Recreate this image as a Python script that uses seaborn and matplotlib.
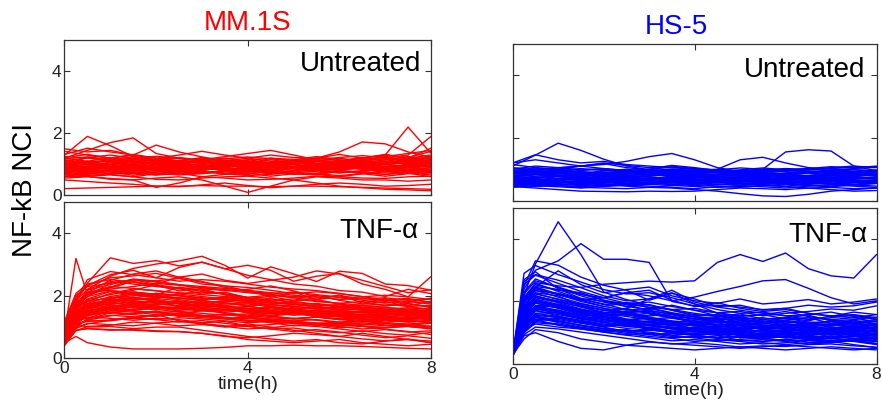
import matplotlib
matplotlib.use("Agg")
import matplotlib.pyplot as plt
import pandas as pd
import seaborn as sns

# Sampling times (h)
T_UNT = [0.0, 0.5, 1.0, 1.5, 2.0, 2.5, 3.0, 3.5, 4.0, 4.5, 5.0, 5.5, 6.0, 6.5, 7.0, 7.5, 8.0]
T_TNF = [0.0, 0.25, 0.5, 1.0, 1.5, 2.0, 2.5, 3.0, 3.5, 4.0, 4.5, 5.0, 5.5, 6.0, 6.5, 7.0, 7.5, 8.0]

# MM.1S, untreated: single-cell NF-kB NCI traces
mm_untreated = [
    [1.30, 1.90, 1.60, 1.25, 1.10, 1.00, 0.95, 1.00, 0.90, 0.92, 1.00, 0.90, 0.98, 1.02, 1.10, 1.00, 1.08],
    [1.20, 1.45, 1.70, 1.85, 1.35, 1.20, 1.10, 1.05, 1.10, 0.98, 0.92, 1.00, 1.08, 1.15, 1.02, 1.10, 1.20],
    [0.92, 0.82, 0.90, 0.80, 0.88, 0.98, 0.90, 0.82, 0.88, 0.80, 0.90, 0.96, 1.00, 1.05, 1.30, 2.20, 1.35],
    [1.00, 1.10, 0.92, 1.02, 1.10, 1.00, 0.92, 1.00, 1.08, 1.00, 1.10, 1.20, 1.40, 1.72, 1.66, 1.40, 1.22],
    [0.80, 0.90, 1.00, 0.92, 0.82, 0.90, 1.00, 0.90, 1.00, 0.92, 1.00, 0.90, 1.00, 1.10, 1.20, 1.30, 1.90],
    [0.22, 0.24, 0.26, 0.28, 0.30, 0.30, 0.32, 0.30, 0.30, 0.28, 0.30, 0.30, 0.28, 0.26, 0.24, 0.22, 0.20],
    [0.50, 0.45, 0.40, 0.36, 0.30, 0.28, 0.34, 0.40, 0.32, 0.25, 0.30, 0.36, 0.40, 0.36, 0.30, 0.32, 0.36],
    [0.72, 0.62, 0.52, 0.50, 0.56, 0.60, 0.50, 0.30, 0.10, 0.30, 0.50, 0.60, 0.56, 0.50, 0.50, 0.46, 0.50],
    [0.60, 0.62, 0.66, 0.60, 0.52, 0.50, 0.56, 0.60, 0.62, 0.56, 0.50, 0.40, 0.30, 0.25, 0.20, 0.18, 0.15],
    [0.56, 0.60, 0.55, 0.50, 0.26, 0.40, 0.60, 0.56, 0.50, 0.52, 0.56, 0.62, 0.60, 0.56, 0.55, 0.60, 0.62],
    [0.90, 1.00, 0.92, 0.84, 0.90, 1.00, 0.94, 0.88, 0.82, 0.90, 0.94, 1.00, 0.92, 0.84, 0.90, 0.98, 0.92],
    [1.02, 0.92, 1.08, 1.00, 0.90, 0.88, 0.98, 0.84, 0.92, 1.00, 0.90, 0.82, 0.90, 1.00, 1.10, 1.02, 0.98],
    [0.80, 0.78, 0.70, 0.80, 0.90, 0.80, 0.72, 0.80, 0.78, 0.70, 0.80, 0.88, 0.80, 0.76, 0.88, 0.80, 0.90],
    [1.10, 1.22, 1.10, 1.00, 1.18, 1.10, 1.02, 1.10, 1.00, 1.08, 1.00, 1.10, 1.20, 1.10, 1.02, 1.12, 1.24],
    [0.70, 0.68, 0.80, 0.72, 0.66, 0.78, 0.80, 0.70, 0.68, 0.78, 0.70, 0.66, 0.78, 0.72, 0.68, 0.80, 0.82],
    [1.22, 1.32, 1.20, 1.30, 1.62, 1.40, 1.24, 1.12, 1.20, 1.10, 1.08, 1.20, 1.12, 1.22, 1.10, 1.20, 1.30],
    [0.88, 0.80, 0.82, 0.90, 0.80, 0.88, 1.00, 0.90, 0.80, 0.82, 0.90, 0.80, 0.88, 0.92, 0.80, 0.90, 1.02],
    [1.00, 1.10, 1.00, 1.12, 1.02, 0.98, 1.10, 1.00, 1.10, 0.92, 1.00, 1.10, 1.00, 0.92, 1.00, 1.10, 1.12],
    [0.62, 0.70, 0.68, 0.60, 0.70, 0.72, 0.60, 0.68, 0.72, 0.62, 0.70, 0.68, 0.60, 0.70, 0.62, 0.70, 0.72],
    [1.32, 1.52, 1.40, 1.30, 1.20, 1.30, 1.42, 1.30, 1.20, 1.30, 1.22, 1.20, 1.32, 1.20, 1.30, 1.22, 1.42],
    [0.82, 0.90, 1.00, 1.10, 1.00, 0.90, 0.82, 0.92, 1.00, 0.90, 0.80, 0.90, 1.00, 1.10, 1.00, 0.92, 1.00],
    [1.10, 1.00, 0.90, 1.00, 1.10, 1.20, 1.10, 1.00, 0.92, 1.00, 1.10, 1.02, 0.90, 1.00, 1.10, 1.00, 0.90],
    [0.72, 0.80, 0.90, 0.82, 0.70, 0.80, 0.90, 0.80, 0.92, 0.80, 0.90, 0.80, 0.72, 0.80, 0.82, 0.90, 0.80],
    [1.00, 1.22, 1.30, 1.20, 1.10, 1.00, 1.12, 1.20, 1.10, 1.00, 1.02, 1.10, 1.00, 1.12, 1.20, 1.10, 1.00],
    [0.90, 0.92, 1.00, 0.90, 1.00, 1.02, 0.90, 1.00, 0.92, 1.00, 1.00, 0.90, 1.00, 0.92, 0.90, 1.00, 0.92],
    [1.20, 1.10, 1.22, 1.10, 1.00, 1.10, 1.22, 1.10, 1.00, 1.02, 1.10, 1.00, 1.10, 1.20, 1.32, 1.20, 1.10],
    [0.80, 0.70, 0.80, 0.90, 0.82, 0.70, 0.80, 0.92, 0.80, 0.70, 0.80, 0.90, 0.82, 0.90, 1.00, 0.90, 0.80],
    [1.42, 1.30, 1.20, 1.32, 1.20, 1.10, 1.20, 1.10, 1.00, 1.20, 1.10, 1.00, 1.10, 1.20, 1.30, 1.20, 1.52],
    [1.00, 0.90, 0.92, 1.00, 0.90, 0.80, 0.90, 0.92, 1.00, 0.90, 0.92, 0.80, 0.90, 1.00, 0.90, 0.80, 0.90],
    [0.60, 0.80, 0.70, 0.72, 0.80, 0.70, 0.72, 0.80, 0.70, 0.80, 0.72, 0.70, 0.80, 0.70, 0.80, 0.72, 0.60],
    [0.95, 1.05, 0.86, 0.95, 1.05, 0.95, 0.86, 0.95, 1.05, 0.96, 0.86, 0.95, 1.05, 0.95, 0.86, 0.96, 1.05],
    [1.15, 1.05, 1.15, 1.25, 1.15, 1.05, 0.95, 1.05, 1.15, 1.05, 1.15, 1.25, 1.15, 1.05, 1.15, 1.25, 1.15],
    [0.75, 0.85, 0.75, 0.65, 0.75, 0.85, 0.95, 0.85, 0.75, 0.85, 0.75, 0.85, 0.95, 0.85, 0.75, 0.85, 0.75],
    [1.50, 1.40, 1.45, 1.30, 1.15, 1.05, 1.15, 1.25, 1.35, 1.45, 1.30, 1.15, 1.05, 1.15, 1.25, 1.35, 1.45],
    [0.85, 0.95, 1.05, 0.95, 0.85, 0.75, 0.85, 0.95, 1.05, 1.15, 1.05, 0.95, 0.85, 0.95, 1.05, 1.15, 1.25],
    [0.86, 0.92, 0.98, 0.94, 0.88, 0.84, 0.90, 0.96, 0.90, 0.84, 0.88, 0.94, 0.98, 0.92, 0.86, 0.90, 0.96],
    [1.06, 1.00, 0.94, 1.00, 1.06, 1.12, 1.06, 1.00, 0.96, 1.02, 1.08, 1.04, 0.98, 0.94, 1.00, 1.06, 1.02],
    [0.74, 0.80, 0.76, 0.70, 0.76, 0.82, 0.78, 0.72, 0.76, 0.82, 0.86, 0.80, 0.74, 0.78, 0.84, 0.78, 0.74],
    [0.96, 0.90, 0.86, 0.92, 0.98, 0.94, 0.88, 0.84, 0.90, 0.96, 0.92, 0.86, 0.92, 0.98, 0.94, 0.88, 0.94],
    [1.18, 1.24, 1.16, 1.10, 1.16, 1.22, 1.14, 1.08, 1.14, 1.20, 1.16, 1.10, 1.06, 1.12, 1.18, 1.14, 1.20],
    [0.68, 0.64, 0.70, 0.76, 0.72, 0.66, 0.70, 0.76, 0.80, 0.74, 0.68, 0.72, 0.78, 0.74, 0.68, 0.72, 0.78],
    [0.84, 0.88, 0.84, 0.78, 0.84, 0.90, 0.86, 0.82, 0.86, 0.92, 0.88, 0.82, 0.86, 0.90, 0.86, 0.80, 0.86],
    [1.02, 1.08, 1.12, 1.06, 1.00, 0.96, 1.02, 1.08, 1.04, 0.98, 1.02, 1.08, 1.12, 1.06, 1.00, 1.04, 1.10],
    [0.92, 0.86, 0.92, 0.98, 0.94, 0.88, 0.92, 0.98, 1.02, 0.96, 0.90, 0.94, 1.00, 0.96, 0.90, 0.94, 1.00],
    [1.26, 1.20, 1.14, 1.20, 1.26, 1.18, 1.12, 1.18, 1.24, 1.18, 1.12, 1.16, 1.22, 1.28, 1.22, 1.16, 1.22],
    [0.78, 0.74, 0.80, 0.86, 0.82, 0.76, 0.72, 0.78, 0.84, 0.80, 0.74, 0.78, 0.84, 0.88, 0.82, 0.76, 0.80],
    [0.98, 1.04, 0.98, 0.92, 0.98, 1.04, 1.08, 1.02, 0.96, 1.00, 1.06, 1.00, 0.94, 0.98, 1.04, 1.10, 1.04],
    [0.66, 0.72, 0.78, 0.72, 0.66, 0.70, 0.76, 0.70, 0.64, 0.68, 0.74, 0.70, 0.64, 0.70, 0.76, 0.72, 0.66],
    [1.12, 1.06, 1.10, 1.16, 1.10, 1.04, 1.08, 1.14, 1.08, 1.02, 1.06, 1.12, 1.08, 1.02, 1.08, 1.14, 1.10],
    [0.88, 0.94, 0.90, 0.84, 0.90, 0.96, 0.92, 0.86, 0.82, 0.88, 0.94, 0.90, 0.84, 0.88, 0.94, 0.98, 0.92],
]

# MM.1S, TNF-alpha stimulated
mm_tnf = [
    [0.80, 3.20, 2.05, 2.28, 2.52, 2.37, 2.61, 2.46, 2.27, 2.18, 1.96, 2.12, 1.88, 2.03, 1.77, 1.92, 1.68, 1.83],
    [0.70, 1.82, 2.41, 3.22, 3.04, 3.13, 2.96, 3.08, 2.87, 2.66, 2.52, 2.38, 2.31, 2.17, 2.12, 1.98, 2.21, 2.07],
    [0.62, 1.48, 2.21, 2.63, 2.88, 3.02, 3.12, 3.27, 2.98, 2.57, 2.93, 2.71, 2.46, 2.79, 2.72, 2.38, 2.33, 2.18],
    [0.93, 1.87, 2.33, 2.68, 2.82, 2.58, 2.91, 3.08, 2.87, 2.98, 2.82, 2.47, 2.63, 2.72, 2.38, 2.21, 1.97, 2.62],
    [0.50, 0.70, 0.50, 0.36, 0.30, 0.30, 0.30, 0.32, 0.35, 0.40, 0.40, 0.42, 0.40, 0.40, 0.38, 0.35, 0.32, 0.30],
    [0.60, 0.90, 0.95, 0.92, 0.90, 0.86, 0.85, 0.80, 0.72, 0.60, 0.55, 0.50, 0.55, 0.60, 0.50, 0.45, 0.40, 0.45],
    [0.80, 1.10, 1.00, 1.02, 0.95, 1.00, 1.00, 0.90, 0.80, 0.70, 0.62, 0.55, 0.60, 0.50, 0.46, 0.55, 0.60, 0.50],
    [1.03, 1.46, 1.72, 1.88, 2.13, 2.05, 2.01, 1.94, 1.86, 1.83, 1.80, 1.72, 1.64, 1.58, 1.63, 1.57, 1.52, 1.42],
    [0.42, 1.18, 1.43, 1.57, 1.65, 1.71, 1.78, 1.81, 1.69, 1.53, 1.49, 1.46, 1.38, 1.43, 1.36, 1.28, 1.33, 1.24],
    [0.88, 1.63, 1.97, 2.42, 2.51, 2.47, 2.36, 2.23, 2.17, 2.21, 2.32, 2.16, 1.97, 1.88, 1.93, 1.86, 1.78, 1.93],
    [0.72, 1.27, 1.63, 1.87, 1.92, 1.83, 1.74, 1.86, 1.97, 1.82, 1.67, 1.53, 1.48, 1.52, 1.61, 1.56, 1.47, 1.43],
    [1.12, 1.97, 2.33, 2.58, 2.64, 2.72, 2.57, 2.38, 2.32, 2.27, 2.18, 2.07, 2.13, 2.07, 1.98, 1.87, 1.92, 1.78],
    [0.58, 1.12, 1.18, 1.23, 1.32, 1.37, 1.42, 1.37, 1.28, 1.27, 1.23, 1.18, 1.13, 1.09, 1.14, 1.07, 1.03, 1.02],
    [0.83, 1.37, 1.82, 2.08, 2.22, 2.17, 2.08, 2.12, 2.07, 1.93, 1.87, 1.82, 1.73, 1.67, 1.58, 1.63, 1.57, 1.52],
    [0.52, 0.97, 1.12, 1.08, 1.04, 1.13, 1.18, 1.12, 1.04, 1.02, 0.94, 0.97, 0.87, 0.82, 0.88, 0.79, 0.74, 0.83],
    [1.02, 1.68, 2.12, 2.18, 2.07, 1.99, 1.88, 1.78, 1.83, 1.77, 1.72, 1.62, 1.58, 1.48, 1.52, 1.57, 1.47, 1.53],
    [0.68, 1.23, 1.48, 1.72, 1.67, 1.58, 1.63, 1.57, 1.48, 1.53, 1.47, 1.38, 1.42, 1.37, 1.28, 1.33, 1.39, 1.27],
    [0.92, 1.88, 2.52, 2.78, 2.68, 2.58, 2.47, 2.52, 2.47, 2.38, 2.28, 2.22, 2.17, 2.08, 1.97, 2.02, 1.97, 1.88],
    [0.57, 1.22, 1.28, 1.52, 1.58, 1.57, 1.48, 1.37, 1.28, 1.32, 1.18, 1.12, 1.08, 1.12, 1.03, 0.98, 1.03, 0.97],
    [0.97, 1.52, 1.68, 1.82, 1.88, 1.96, 1.93, 1.84, 1.78, 1.68, 1.72, 1.67, 1.58, 1.62, 1.54, 1.52, 1.58, 1.48],
    [0.78, 1.32, 1.44, 1.58, 1.52, 1.46, 1.38, 1.34, 1.27, 1.18, 1.22, 1.14, 1.07, 0.98, 1.02, 0.93, 0.86, 0.76],
    [0.72, 1.58, 1.88, 2.04, 2.18, 2.36, 2.24, 2.06, 2.12, 1.94, 1.82, 1.74, 1.66, 1.72, 1.58, 1.46, 1.52, 1.36],
    [0.52, 0.98, 1.28, 1.38, 1.33, 1.24, 1.16, 1.21, 1.12, 1.04, 0.94, 0.86, 0.92, 0.84, 0.74, 0.66, 0.72, 0.64],
    [1.18, 2.08, 2.38, 2.52, 2.44, 2.32, 2.26, 2.14, 2.06, 1.96, 2.02, 1.94, 1.84, 1.76, 1.82, 1.68, 1.74, 1.66],
    [0.62, 1.38, 1.62, 1.76, 1.94, 1.88, 1.76, 1.64, 1.56, 1.46, 1.52, 1.44, 1.34, 1.26, 1.32, 1.24, 1.16, 1.22],
    [0.88, 1.28, 1.46, 1.44, 1.56, 1.66, 1.62, 1.54, 1.58, 1.48, 1.36, 1.42, 1.48, 1.36, 1.38, 1.32, 1.26, 1.34],
    [0.82, 1.68, 2.18, 2.36, 2.54, 2.48, 2.56, 2.44, 2.32, 2.14, 2.04, 1.96, 2.02, 1.86, 1.74, 1.82, 1.66, 1.56],
    [0.48, 0.88, 1.02, 1.06, 1.16, 1.12, 1.04, 1.08, 1.02, 0.94, 0.98, 1.06, 1.02, 0.94, 0.86, 0.92, 0.84, 0.88],
    [0.68, 1.48, 1.72, 1.86, 1.96, 1.84, 1.66, 1.72, 1.62, 1.46, 1.36, 1.26, 1.32, 1.38, 1.24, 1.16, 1.22, 1.14],
    [1.08, 1.78, 2.02, 2.26, 2.46, 2.34, 2.16, 2.22, 2.04, 1.86, 1.92, 1.76, 1.66, 1.56, 1.62, 1.54, 1.36, 1.42],
    [0.62, 1.08, 1.38, 1.66, 1.54, 1.62, 1.52, 1.36, 1.42, 1.34, 1.24, 1.28, 1.22, 1.14, 1.18, 1.12, 1.06, 1.12],
    [0.92, 1.42, 1.58, 1.96, 1.92, 2.08, 2.02, 1.86, 1.74, 1.78, 1.64, 1.54, 1.44, 1.48, 1.36, 1.42, 1.34, 1.24],
    [0.40, 0.90, 0.95, 0.90, 0.92, 0.88, 0.86, 0.80, 0.70, 0.66, 0.72, 0.80, 0.76, 0.70, 0.62, 0.56, 0.62, 0.50],
    [0.72, 1.18, 1.38, 1.48, 1.42, 1.52, 1.34, 1.38, 1.32, 1.22, 1.14, 1.04, 1.08, 1.02, 0.94, 0.98, 1.08, 1.02],
    [1.00, 1.60, 2.10, 2.50, 2.70, 2.80, 2.60, 2.70, 2.50, 2.40, 2.50, 2.60, 2.80, 2.70, 2.50, 2.30, 2.10, 2.20],
    [0.78, 1.32, 1.58, 1.78, 1.72, 1.88, 1.74, 1.62, 1.78, 1.68, 1.54, 1.44, 1.48, 1.34, 1.24, 1.28, 1.22, 1.14],
    [0.50, 1.10, 1.20, 1.20, 1.30, 1.40, 1.20, 1.10, 1.00, 1.10, 1.00, 0.90, 0.80, 0.70, 0.80, 0.70, 0.60, 0.55],
    [0.92, 1.68, 1.98, 2.16, 2.12, 2.04, 2.28, 2.18, 2.04, 1.92, 1.98, 1.84, 1.88, 1.74, 1.64, 1.68, 1.76, 1.62],
    [0.68, 1.38, 1.52, 1.62, 1.76, 1.68, 1.54, 1.58, 1.44, 1.34, 1.38, 1.46, 1.34, 1.24, 1.28, 1.36, 1.24, 1.28],
    [0.58, 1.18, 1.32, 1.28, 1.22, 1.28, 1.24, 1.14, 1.18, 1.04, 1.08, 1.16, 1.12, 1.04, 1.08, 1.14, 1.02, 0.94],
    [0.76, 1.56, 1.84, 1.92, 2.06, 1.98, 1.92, 1.88, 1.96, 1.86, 1.78, 1.72, 1.76, 1.66, 1.62, 1.54, 1.48, 1.46],
    [0.86, 1.44, 1.66, 1.74, 1.82, 1.76, 1.68, 1.72, 1.64, 1.58, 1.62, 1.54, 1.46, 1.42, 1.48, 1.44, 1.36, 1.38],
    [0.66, 1.34, 1.58, 1.70, 1.62, 1.74, 1.68, 1.60, 1.52, 1.58, 1.50, 1.42, 1.46, 1.38, 1.34, 1.40, 1.46, 1.36],
    [0.94, 1.62, 1.90, 2.14, 2.02, 1.96, 2.06, 1.98, 1.90, 1.84, 1.76, 1.80, 1.72, 1.64, 1.70, 1.62, 1.56, 1.60],
    [0.54, 1.02, 1.24, 1.46, 1.40, 1.34, 1.44, 1.52, 1.46, 1.38, 1.30, 1.26, 1.32, 1.24, 1.18, 1.22, 1.16, 1.20],
    [1.06, 1.86, 2.20, 2.46, 2.38, 2.30, 2.22, 2.28, 2.18, 2.10, 2.04, 1.98, 1.90, 1.94, 1.86, 1.78, 1.82, 1.74],
    [0.74, 1.28, 1.54, 1.64, 1.78, 1.82, 1.76, 1.68, 1.62, 1.66, 1.58, 1.50, 1.54, 1.46, 1.40, 1.44, 1.38, 1.34],
    [0.84, 1.52, 1.76, 1.98, 2.10, 2.02, 1.94, 1.88, 1.92, 1.80, 1.72, 1.66, 1.60, 1.64, 1.56, 1.50, 1.54, 1.48],
    [0.60, 1.16, 1.36, 1.52, 1.48, 1.40, 1.36, 1.30, 1.26, 1.20, 1.24, 1.18, 1.12, 1.16, 1.10, 1.04, 1.08, 1.02],
    [0.98, 1.74, 2.06, 2.22, 2.30, 2.40, 2.34, 2.26, 2.20, 2.14, 2.08, 2.12, 2.04, 1.96, 1.90, 1.94, 1.86, 1.90],
    [0.70, 1.22, 1.44, 1.56, 1.64, 1.58, 1.66, 1.72, 1.64, 1.56, 1.48, 1.52, 1.44, 1.38, 1.42, 1.36, 1.30, 1.36],
    [0.80, 1.46, 1.70, 1.90, 1.84, 1.78, 1.82, 1.74, 1.68, 1.60, 1.64, 1.56, 1.50, 1.52, 1.46, 1.38, 1.42, 1.32],
    [0.56, 1.06, 1.22, 1.36, 1.44, 1.50, 1.42, 1.36, 1.40, 1.32, 1.26, 1.20, 1.24, 1.16, 1.20, 1.14, 1.10, 1.14],
    [1.14, 2.02, 2.30, 2.40, 2.52, 2.44, 2.36, 2.30, 2.24, 2.18, 2.10, 2.02, 1.96, 2.00, 1.92, 1.84, 1.88, 1.80],
    [0.64, 1.30, 1.50, 1.66, 1.74, 1.68, 1.60, 1.64, 1.56, 1.50, 1.44, 1.48, 1.40, 1.34, 1.30, 1.34, 1.28, 1.24],
    [0.90, 1.58, 1.82, 1.94, 2.00, 2.08, 2.00, 1.92, 1.86, 1.90, 1.82, 1.74, 1.68, 1.72, 1.64, 1.58, 1.62, 1.56],
    [0.46, 0.96, 1.10, 1.22, 1.28, 1.24, 1.30, 1.26, 1.20, 1.14, 1.18, 1.12, 1.06, 1.10, 1.04, 0.98, 1.02, 0.96],
    [0.76, 1.40, 1.66, 1.80, 1.86, 1.92, 1.84, 1.76, 1.70, 1.74, 1.66, 1.58, 1.62, 1.54, 1.48, 1.52, 1.44, 1.50],
    [1.02, 1.80, 2.10, 2.30, 2.24, 2.16, 2.10, 2.04, 1.98, 1.92, 1.86, 1.90, 1.82, 1.76, 1.70, 1.74, 1.66, 1.70],
    [0.62, 1.14, 1.40, 1.58, 1.52, 1.46, 1.50, 1.44, 1.38, 1.42, 1.34, 1.28, 1.32, 1.26, 1.22, 1.26, 1.20, 1.16],
    [0.86, 1.50, 1.74, 1.86, 1.78, 1.72, 1.78, 1.70, 1.64, 1.60, 1.54, 1.58, 1.52, 1.46, 1.50, 1.44, 1.40, 1.44],
    [0.72, 1.26, 1.48, 1.60, 1.70, 1.64, 1.58, 1.52, 1.56, 1.48, 1.42, 1.46, 1.38, 1.32, 1.36, 1.30, 1.26, 1.30],
]

# HS-5, untreated
hs_untreated = [
    [1.10, 1.45, 1.83, 1.60, 1.32, 1.10, 0.98, 0.90, 0.85, 0.80, 0.78, 0.82, 0.80, 0.76, 0.80, 0.78, 0.82],
    [0.90, 1.00, 1.05, 1.10, 1.15, 1.25, 1.40, 1.50, 1.30, 1.05, 0.92, 0.85, 0.80, 0.78, 0.82, 0.86, 0.80],
    [0.80, 0.85, 0.82, 0.78, 0.80, 0.76, 0.80, 0.85, 0.90, 0.92, 0.95, 1.00, 1.55, 1.62, 1.58, 1.10, 0.95],
    [0.90, 0.95, 1.00, 0.90, 0.85, 0.90, 0.95, 1.00, 0.95, 1.00, 1.30, 1.38, 1.20, 1.05, 1.00, 0.98, 0.95],
    [1.20, 1.46, 1.30, 1.20, 1.25, 1.15, 1.10, 1.05, 1.00, 0.95, 0.92, 0.98, 1.02, 1.00, 1.05, 1.10, 1.05],
    [0.45, 0.40, 0.35, 0.30, 0.29, 0.28, 0.30, 0.29, 0.30, 0.35, 0.40, 0.38, 0.35, 0.40, 0.42, 0.38, 0.40],
    [0.50, 0.45, 0.48, 0.42, 0.40, 0.38, 0.42, 0.40, 0.35, 0.30, 0.22, 0.15, 0.13, 0.20, 0.30, 0.35, 0.40],
    [0.55, 0.50, 0.52, 0.48, 0.45, 0.50, 0.52, 0.48, 0.45, 0.42, 0.45, 0.48, 0.45, 0.40, 0.35, 0.30, 0.32],
    [0.70, 0.75, 0.68, 0.72, 0.78, 0.70, 0.65, 0.70, 0.75, 0.68, 0.72, 0.70, 0.66, 0.72, 0.76, 0.70, 0.68],
    [0.85, 0.90, 0.95, 0.88, 0.82, 0.88, 0.92, 0.86, 0.80, 0.85, 0.90, 0.86, 0.82, 0.88, 0.92, 0.86, 0.90],
    [0.60, 0.55, 0.62, 0.58, 0.55, 0.60, 0.64, 0.58, 0.54, 0.60, 0.56, 0.52, 0.58, 0.62, 0.56, 0.60, 0.58],
    [1.00, 1.10, 1.05, 0.98, 1.02, 0.95, 0.90, 0.96, 0.92, 0.88, 0.94, 0.90, 0.86, 0.92, 0.96, 0.92, 0.98],
    [0.50, 0.55, 0.60, 0.55, 0.50, 0.54, 0.58, 0.52, 0.48, 0.52, 0.56, 0.50, 0.46, 0.52, 0.56, 0.50, 0.54],
    [0.78, 0.72, 0.80, 0.86, 0.80, 0.74, 0.78, 0.84, 0.78, 0.72, 0.76, 0.82, 0.78, 0.74, 0.80, 0.84, 0.80],
    [0.92, 1.00, 0.94, 0.88, 0.94, 1.00, 0.92, 0.86, 0.90, 0.96, 0.88, 0.82, 0.88, 0.94, 0.90, 0.84, 0.88],
    [0.65, 0.60, 0.66, 0.70, 0.64, 0.60, 0.66, 0.70, 0.64, 0.58, 0.62, 0.68, 0.64, 0.58, 0.62, 0.66, 0.62],
    [1.15, 1.05, 1.00, 1.10, 1.18, 1.05, 0.98, 0.95, 0.92, 0.90, 0.86, 0.90, 0.94, 0.98, 1.02, 1.06, 1.08],
    [0.45, 0.52, 0.48, 0.44, 0.50, 0.46, 0.42, 0.48, 0.52, 0.46, 0.42, 0.48, 0.52, 0.48, 0.44, 0.50, 0.46],
    [0.75, 0.82, 0.76, 0.70, 0.74, 0.80, 0.84, 0.78, 0.72, 0.76, 0.80, 0.74, 0.70, 0.76, 0.80, 0.76, 0.72],
    [0.88, 0.82, 0.86, 0.92, 0.86, 0.80, 0.84, 0.90, 0.84, 0.78, 0.82, 0.88, 0.84, 0.80, 0.86, 0.90, 0.84],
    [0.58, 0.64, 0.70, 0.64, 0.60, 0.66, 0.70, 0.64, 0.60, 0.66, 0.62, 0.58, 0.64, 0.68, 0.62, 0.58, 0.64],
    [1.05, 0.98, 1.04, 1.10, 1.02, 0.96, 1.00, 1.06, 1.00, 0.94, 0.98, 1.04, 0.98, 0.92, 0.96, 1.02, 1.06],
    [0.68, 0.74, 0.78, 0.72, 0.68, 0.72, 0.76, 0.70, 0.66, 0.70, 0.74, 0.78, 0.72, 0.68, 0.72, 0.76, 0.70],
    [0.52, 0.58, 0.54, 0.50, 0.56, 0.60, 0.56, 0.52, 0.56, 0.60, 0.56, 0.52, 0.56, 0.60, 0.54, 0.50, 0.56],
    [0.95, 0.90, 0.96, 1.02, 0.96, 0.90, 0.94, 1.00, 0.96, 0.90, 0.94, 0.98, 0.92, 0.88, 0.92, 0.98, 0.94],
    [0.80, 0.86, 0.92, 0.86, 0.80, 0.84, 0.88, 0.82, 0.78, 0.82, 0.86, 0.80, 0.76, 0.80, 0.86, 0.82, 0.78],
    [0.62, 0.68, 0.62, 0.58, 0.62, 0.68, 0.72, 0.66, 0.62, 0.66, 0.70, 0.66, 0.60, 0.64, 0.68, 0.64, 0.60],
    [1.20, 1.30, 1.20, 1.10, 1.20, 1.12, 1.05, 1.10, 1.02, 0.98, 1.04, 1.00, 0.96, 1.02, 1.08, 1.04, 1.10],
    [0.72, 0.66, 0.70, 0.76, 0.70, 0.64, 0.68, 0.74, 0.70, 0.64, 0.68, 0.72, 0.68, 0.64, 0.70, 0.74, 0.70],
    [0.88, 0.94, 0.88, 0.82, 0.88, 0.94, 1.00, 1.12, 1.05, 0.96, 0.90, 0.94, 0.98, 0.92, 0.86, 0.90, 0.96],
    [0.55, 0.50, 0.56, 0.62, 0.58, 0.52, 0.56, 0.62, 0.58, 0.52, 0.50, 0.54, 0.60, 0.56, 0.52, 0.56, 0.60],
    [0.66, 0.72, 0.80, 0.76, 0.70, 0.64, 0.70, 0.78, 0.74, 0.68, 0.62, 0.68, 0.74, 0.70, 0.64, 0.70, 0.76],
    [0.82, 0.76, 0.70, 0.76, 0.84, 0.80, 0.74, 0.68, 0.74, 0.82, 0.78, 0.72, 0.66, 0.72, 0.80, 0.74, 0.70],
    [0.48, 0.54, 0.58, 0.52, 0.46, 0.52, 0.58, 0.62, 0.56, 0.50, 0.54, 0.60, 0.56, 0.50, 0.46, 0.52, 0.58],
    [0.96, 1.04, 0.98, 0.92, 0.86, 0.92, 0.98, 0.94, 0.88, 0.82, 0.88, 0.94, 1.00, 0.94, 0.88, 0.84, 0.90],
    [0.60, 0.66, 0.60, 0.54, 0.60, 0.66, 0.62, 0.56, 0.62, 0.68, 0.64, 0.58, 0.54, 0.60, 0.66, 0.62, 0.56],
    [0.74, 0.70, 0.76, 0.82, 0.76, 0.70, 0.66, 0.72, 0.80, 0.76, 0.70, 0.76, 0.82, 0.78, 0.72, 0.68, 0.74],
    [0.88, 0.84, 0.78, 0.84, 0.90, 0.86, 0.80, 0.84, 0.90, 0.94, 0.88, 0.82, 0.86, 0.92, 0.88, 0.82, 0.86],
    [0.54, 0.60, 0.64, 0.58, 0.52, 0.48, 0.54, 0.60, 0.66, 0.60, 0.54, 0.58, 0.64, 0.58, 0.52, 0.58, 0.62],
    [0.70, 0.64, 0.58, 0.64, 0.70, 0.74, 0.68, 0.62, 0.66, 0.72, 0.66, 0.60, 0.66, 0.72, 0.68, 0.62, 0.66],
    [1.02, 0.94, 0.90, 0.96, 1.00, 0.94, 0.88, 0.92, 0.98, 0.92, 0.86, 0.92, 0.96, 1.02, 0.96, 0.90, 0.94],
    [0.42, 0.48, 0.44, 0.40, 0.46, 0.50, 0.46, 0.42, 0.38, 0.44, 0.48, 0.44, 0.40, 0.46, 0.50, 0.46, 0.42],
    [0.78, 0.84, 0.88, 0.82, 0.76, 0.80, 0.86, 0.80, 0.74, 0.78, 0.84, 0.90, 0.84, 0.78, 0.74, 0.80, 0.86],
    [0.62, 0.58, 0.64, 0.68, 0.62, 0.56, 0.60, 0.66, 0.60, 0.56, 0.60, 0.64, 0.58, 0.54, 0.60, 0.64, 0.58],
    [0.86, 0.92, 0.86, 0.80, 0.86, 0.90, 0.84, 0.78, 0.84, 0.90, 0.86, 0.80, 0.84, 0.88, 0.82, 0.78, 0.84],
    [0.56, 0.52, 0.58, 0.64, 0.68, 0.62, 0.56, 0.52, 0.58, 0.64, 0.70, 0.64, 0.58, 0.62, 0.68, 0.62, 0.56],
]

# HS-5, TNF-alpha stimulated
hs_tnf = [
    [0.30, 2.20, 3.20, 4.55, 3.50, 2.30, 2.06, 1.88, 1.74, 1.62, 1.52, 1.44, 1.48, 1.38, 1.32, 1.36, 1.28, 1.22],
    [0.30, 2.40, 3.00, 3.30, 3.85, 3.35, 3.35, 3.25, 2.00, 1.86, 1.96, 1.78, 1.68, 1.74, 1.62, 1.54, 1.58, 1.48],
    [0.30, 2.00, 2.60, 2.50, 2.45, 2.55, 2.60, 2.65, 2.62, 2.66, 3.25, 3.50, 3.28, 3.55, 3.05, 2.82, 2.75, 3.50],
    [0.30, 1.80, 2.40, 2.22, 2.04, 2.12, 2.28, 2.18, 2.02, 2.14, 2.32, 2.48, 2.66, 2.70, 2.42, 2.12, 1.92, 2.02],
    [0.30, 2.90, 3.15, 2.86, 2.62, 2.38, 2.24, 2.28, 2.12, 1.92, 1.74, 1.62, 1.66, 1.54, 1.42, 1.48, 1.56, 1.42],
    [0.30, 2.50, 3.30, 3.16, 2.78, 2.52, 2.36, 2.04, 2.26, 2.08, 1.84, 1.88, 1.72, 1.78, 1.62, 1.52, 1.66, 1.58],
    [0.25, 2.64, 2.86, 2.68, 2.44, 2.18, 2.02, 2.08, 2.36, 1.98, 1.82, 1.72, 1.62, 1.54, 1.58, 1.66, 1.52, 1.44],
    [0.30, 1.70, 2.46, 2.98, 2.54, 2.28, 2.38, 2.46, 2.18, 2.02, 1.94, 2.08, 1.92, 1.98, 2.06, 1.92, 1.98, 2.08],
    [0.30, 2.10, 2.54, 2.36, 2.28, 2.04, 1.92, 1.82, 1.74, 1.78, 1.64, 1.68, 1.54, 1.62, 1.68, 1.76, 1.72, 1.86],
    [0.35, 1.62, 2.18, 1.98, 1.84, 1.72, 1.62, 1.54, 1.58, 1.44, 1.34, 1.38, 1.24, 1.28, 1.22, 1.26, 1.18, 1.12],
    [0.30, 2.02, 2.34, 2.26, 2.08, 1.92, 1.74, 1.64, 1.52, 1.44, 1.48, 1.34, 1.38, 1.24, 1.28, 1.18, 1.12, 1.18],
    [0.25, 1.32, 1.86, 1.92, 1.74, 1.62, 1.52, 1.42, 1.34, 1.24, 1.28, 1.22, 1.14, 1.18, 1.04, 1.08, 1.02, 1.08],
    [0.30, 1.52, 1.84, 1.68, 1.54, 1.42, 1.32, 1.24, 1.28, 1.12, 1.04, 1.08, 1.02, 0.94, 0.98, 1.06, 0.92, 0.98],
    [0.30, 1.86, 2.26, 2.06, 1.92, 1.78, 1.64, 1.68, 1.52, 1.34, 1.24, 1.28, 1.14, 1.18, 1.04, 1.08, 1.16, 1.02],
    [0.35, 1.18, 1.62, 1.66, 1.44, 1.32, 1.22, 1.14, 1.04, 1.08, 1.02, 0.94, 0.98, 0.92, 0.84, 0.88, 0.96, 0.92],
    [0.30, 1.34, 1.56, 1.48, 1.38, 1.24, 1.14, 1.18, 1.04, 0.94, 0.98, 0.92, 0.84, 0.88, 0.82, 0.74, 0.78, 0.86],
    [0.25, 1.02, 1.38, 1.46, 1.32, 1.18, 1.04, 0.94, 0.98, 0.92, 0.84, 0.88, 0.82, 0.74, 0.78, 0.86, 0.82, 0.74],
    [0.30, 1.10, 1.28, 1.18, 1.12, 1.02, 0.94, 0.98, 0.92, 0.84, 0.74, 0.78, 0.72, 0.78, 0.86, 0.82, 0.74, 0.64],
    [0.30, 0.90, 1.00, 0.72, 0.50, 0.45, 0.60, 0.70, 0.65, 0.60, 0.55, 0.50, 0.55, 0.60, 0.55, 0.50, 0.45, 0.50],
    [0.30, 0.80, 1.10, 1.00, 0.80, 0.70, 0.60, 0.55, 0.50, 0.45, 0.50, 0.55, 0.50, 0.45, 0.50, 0.55, 0.50, 0.45],
    [0.30, 1.74, 2.04, 1.88, 1.72, 1.54, 1.58, 1.44, 1.34, 1.38, 1.24, 1.14, 1.18, 1.26, 1.22, 1.12, 1.18, 1.28],
    [0.35, 1.42, 1.86, 1.82, 1.62, 1.52, 1.42, 1.34, 1.24, 1.28, 1.36, 1.32, 1.22, 1.14, 1.18, 1.26, 1.34, 1.28],
    [0.30, 2.24, 2.66, 2.46, 2.24, 2.04, 1.84, 1.74, 1.88, 1.72, 1.54, 1.44, 1.34, 1.38, 1.32, 1.24, 1.28, 1.36],
    [0.30, 1.48, 1.78, 1.62, 1.48, 1.34, 1.24, 1.28, 1.14, 1.04, 1.08, 1.02, 0.94, 0.98, 1.06, 1.02, 0.92, 0.84],
    [0.25, 1.28, 1.54, 1.38, 1.24, 1.12, 1.02, 0.94, 0.84, 0.88, 0.82, 0.74, 0.78, 0.72, 0.64, 0.68, 0.76, 0.72],
    [0.30, 1.96, 2.46, 2.24, 2.04, 1.84, 1.96, 1.88, 1.72, 1.54, 1.58, 1.48, 1.42, 1.48, 1.38, 1.54, 1.48, 1.58],
    [0.30, 1.24, 1.72, 1.54, 1.34, 1.22, 1.28, 1.14, 1.04, 0.92, 0.84, 0.88, 0.96, 0.88, 0.82, 0.74, 0.78, 0.76],
    [0.30, 1.06, 1.36, 1.28, 1.14, 1.02, 0.92, 0.84, 0.74, 0.78, 0.72, 0.64, 0.68, 0.62, 0.68, 0.76, 0.72, 0.62],
    [0.35, 1.78, 2.14, 2.02, 1.88, 1.72, 1.62, 1.44, 1.48, 1.32, 1.22, 1.14, 1.18, 1.12, 1.04, 1.08, 1.02, 1.08],
    [0.30, 1.46, 2.02, 1.88, 1.72, 1.58, 1.42, 1.32, 1.24, 1.14, 1.18, 1.04, 1.08, 1.02, 0.94, 0.98, 1.08, 1.18],
    [0.30, 2.54, 2.84, 2.58, 2.32, 2.12, 1.94, 1.98, 1.84, 1.72, 1.64, 1.54, 1.58, 1.68, 1.52, 1.42, 1.48, 1.34],
    [0.30, 1.14, 1.42, 1.24, 1.12, 1.04, 1.08, 1.02, 0.92, 0.98, 0.92, 0.84, 0.88, 0.96, 0.92, 0.84, 0.88, 0.98],
    [0.25, 0.94, 1.18, 1.12, 1.02, 0.92, 0.82, 0.72, 0.64, 0.68, 0.62, 0.54, 0.58, 0.56, 0.62, 0.64, 0.58, 0.54],
    [0.30, 1.62, 2.04, 1.84, 1.64, 1.44, 1.34, 1.38, 1.28, 1.22, 1.14, 1.18, 1.12, 1.04, 1.08, 1.16, 1.12, 1.02],
    [0.30, 1.38, 1.76, 1.72, 1.54, 1.42, 1.24, 1.14, 1.18, 1.04, 0.94, 0.98, 0.92, 0.84, 0.88, 0.82, 0.88, 0.82],
    [0.30, 2.06, 2.48, 2.38, 2.22, 2.12, 2.28, 2.36, 2.04, 1.84, 1.88, 1.82, 1.74, 1.78, 1.88, 1.82, 1.86, 1.98],
    [0.35, 1.22, 1.48, 1.38, 1.22, 1.12, 1.04, 1.08, 1.02, 1.16, 1.12, 1.04, 0.94, 0.98, 0.92, 0.98, 1.08, 1.02],
    [0.30, 1.28, 1.52, 1.32, 1.18, 1.08, 0.98, 0.88, 0.82, 0.72, 0.78, 0.72, 0.64, 0.68, 0.76, 0.72, 0.62, 0.52],
    [0.30, 1.82, 2.28, 2.18, 1.84, 1.62, 1.78, 2.08, 2.28, 1.92, 1.62, 1.52, 1.58, 1.44, 1.48, 1.42, 1.34, 1.38],
    [0.30, 2.70, 2.95, 2.40, 2.10, 2.00, 1.90, 1.70, 1.60, 1.50, 1.45, 1.40, 1.30, 1.35, 1.30, 1.25, 1.20, 1.25],
    [0.30, 1.56, 1.96, 1.78, 1.58, 1.48, 1.38, 1.26, 1.18, 1.12, 1.06, 1.14, 1.02, 0.96, 1.02, 0.94, 0.98, 0.92],
    [0.30, 1.66, 2.08, 1.90, 1.70, 1.56, 1.62, 1.48, 1.34, 1.28, 1.36, 1.22, 1.16, 1.26, 1.14, 1.08, 1.18, 1.08],
    [0.28, 1.40, 1.82, 1.66, 1.50, 1.38, 1.30, 1.36, 1.24, 1.14, 1.10, 1.16, 1.02, 1.06, 1.12, 0.96, 1.00, 0.94],
    [0.32, 1.92, 2.36, 2.14, 1.94, 1.78, 1.66, 1.72, 1.58, 1.44, 1.40, 1.48, 1.30, 1.34, 1.28, 1.38, 1.28, 1.22],
    [0.30, 1.20, 1.58, 1.50, 1.36, 1.24, 1.30, 1.16, 1.06, 1.02, 1.08, 0.94, 0.90, 0.98, 0.88, 0.84, 0.92, 0.82],
    [0.26, 1.54, 1.94, 1.80, 1.62, 1.48, 1.40, 1.46, 1.34, 1.22, 1.18, 1.24, 1.10, 1.06, 1.16, 1.04, 1.00, 1.10],
    [0.34, 2.14, 2.58, 2.32, 2.08, 1.90, 1.96, 1.80, 1.64, 1.52, 1.58, 1.40, 1.36, 1.46, 1.34, 1.30, 1.40, 1.28],
    [0.30, 1.10, 1.44, 1.36, 1.24, 1.14, 1.06, 1.12, 0.98, 0.92, 0.98, 0.84, 0.80, 0.88, 0.78, 0.74, 0.82, 0.72],
    [0.30, 1.76, 2.18, 2.00, 1.82, 1.66, 1.56, 1.62, 1.48, 1.36, 1.42, 1.28, 1.24, 1.20, 1.30, 1.18, 1.14, 1.24],
    [0.28, 1.30, 1.70, 1.58, 1.44, 1.50, 1.34, 1.22, 1.12, 1.18, 1.04, 1.00, 1.06, 1.00, 0.94, 1.02, 0.94, 0.88],
    [0.32, 1.60, 1.98, 1.86, 1.68, 1.54, 1.60, 1.42, 1.30, 1.26, 1.32, 1.16, 1.12, 1.22, 1.10, 1.06, 1.14, 1.04],
    [0.30, 2.30, 2.72, 2.44, 2.18, 1.98, 1.84, 1.90, 1.72, 1.58, 1.52, 1.60, 1.44, 1.48, 1.56, 1.38, 1.42, 1.50],
    [0.26, 1.00, 1.32, 1.26, 1.16, 1.06, 1.10, 0.98, 0.88, 0.84, 0.90, 0.76, 0.72, 0.80, 0.70, 0.68, 0.76, 0.66],
    [0.30, 1.46, 1.86, 1.72, 1.56, 1.62, 1.44, 1.32, 1.22, 1.28, 1.14, 1.10, 1.16, 1.10, 1.04, 1.12, 1.04, 0.98],
    [0.34, 1.84, 2.24, 2.08, 1.88, 1.72, 1.78, 1.60, 1.46, 1.40, 1.48, 1.32, 1.28, 1.38, 1.26, 1.22, 1.32, 1.20],
    [0.30, 1.24, 1.62, 1.52, 1.40, 1.28, 1.20, 1.26, 1.12, 1.04, 1.00, 1.06, 0.92, 0.96, 1.02, 0.86, 0.90, 0.96],
    [0.28, 1.70, 2.12, 1.96, 1.76, 1.62, 1.68, 1.50, 1.38, 1.32, 1.40, 1.24, 1.20, 1.30, 1.18, 1.14, 1.24, 1.12],
    [0.30, 1.36, 1.76, 1.62, 1.46, 1.34, 1.40, 1.24, 1.14, 1.10, 1.16, 1.02, 0.98, 1.06, 0.96, 0.92, 1.00, 0.90],
    [0.32, 2.00, 2.44, 2.22, 2.00, 1.84, 1.72, 1.78, 1.62, 1.50, 1.44, 1.52, 1.36, 1.40, 1.48, 1.30, 1.34, 1.42],
    [0.30, 1.16, 1.50, 1.42, 1.30, 1.20, 1.26, 1.10, 1.02, 0.98, 1.04, 0.90, 0.86, 0.94, 0.84, 0.80, 0.88, 0.78],
    [0.30, 1.58, 2.00, 1.84, 1.66, 1.52, 1.42, 1.48, 1.36, 1.24, 1.20, 1.26, 1.12, 1.16, 1.22, 1.06, 1.10, 1.16],
]

CONDITIONS = ["Untreated", "TNF-\u03b1"]
LINE_COLORS = {"MM.1S": "#ff0000", "HS-5": "#0000ff"}


def long_form(traces, times):
    rows = []
    for cell, trace in enumerate(traces):
        for t, v in zip(times, trace):
            rows.append((cell, t, v))
    return pd.DataFrame(rows, columns=["cell", "time", "nci"])


sns.set_style("ticks")
plt.rcParams["font.family"] = ["Liberation Sans", "DejaVu Sans"]

fig = plt.figure(figsize=(8.82, 4.07), dpi=100)

panels = [
    ("MM.1S", CONDITIONS[0], mm_untreated, T_UNT, [0.0731, 0.5197, 0.4156, 0.3821], (0.973, 0.803)),
    ("MM.1S", CONDITIONS[1], mm_tnf, T_TNF, [0.0731, 0.1197, 0.4156, 0.3833], (0.966, 0.770)),
    ("HS-5", CONDITIONS[0], hs_untreated, T_UNT, [0.5813, 0.5072, 0.4125, 0.3853], (0.970, 0.790)),
    ("HS-5", CONDITIONS[1], hs_tnf, T_TNF, [0.5813, 0.1057, 0.4125, 0.3840], (0.975, 0.782)),
]

frame = "#333333"
for line, cond, traces, times, rect, (tx, ty) in panels:
    ax = fig.add_axes(rect)
    df = long_form(traces, times)
    sns.lineplot(data=df, x="time", y="nci", units="cell", estimator=None,
                 color=LINE_COLORS[line], lw=1.0, ax=ax, legend=False)
    ax.set_xlim(0, 8)
    ax.set_ylim(0, 5)
    ax.set_xticks([0, 4, 8])
    ax.set_yticks([0, 2, 4])
    ax.tick_params(direction="in", top=True, right=True, length=4, width=0.8,
                   color=frame, labelsize=12.5, labelcolor="#222222", pad=2)
    for sp in ax.spines.values():
        sp.set_color(frame)
        sp.set_linewidth(0.9)
    ax.set_ylabel("")
    if cond == CONDITIONS[0]:
        ax.tick_params(labelbottom=False)
        ax.set_xlabel("")
    else:
        ax.set_xlabel("time(h)", fontsize=14, color="#222222", labelpad=0)
    if line == "HS-5":
        ax.tick_params(labelleft=False)
    ax.text(tx, ty, cond, transform=ax.transAxes, ha="right", va="baseline",
            fontsize=20, color="black")

fig.text(247.7 / 882, 1 - 23 / 407, "MM.1S", ha="center", va="center",
         fontsize=20, color="#ff0000")
fig.text(676.7 / 882, 1 - 27 / 407, "HS-5", ha="center", va="center",
         fontsize=20, color="#0000ff")
fig.text(25 / 882, 1 - 190 / 407, "NF-kB NCI", ha="center", va="center",
         rotation=90, fontsize=20, color="black")

fig.savefig("out.png", dpi=100)
